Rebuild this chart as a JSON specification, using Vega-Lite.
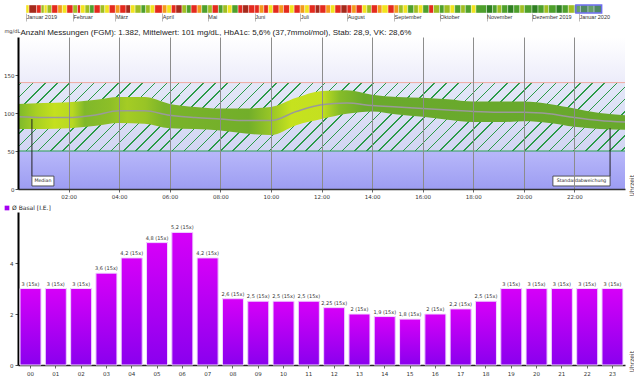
{
"$schema": "https://vega.github.io/schema/vega-lite/v6.json",
"background": "white",
"padding": {"left": 3, "top": 4, "right": 0, "bottom": 0},
"spacing": 5,
"resolve": {"scale": {"color": "independent", "stroke": "independent"}, "legend": {"color": "independent", "stroke": "independent"}},
"config": {"view": {"stroke": null}, "axis": {"labelFont": "DejaVu Sans", "titleFont": "DejaVu Sans"}},
"datasets": {
"days": [
{"s":"2019-01-01","e":"2019-01-03","c":"y"},{"s":"2019-01-03","e":"2019-01-08","c":"dr"},{"s":"2019-01-08","e":"2019-01-11","c":"r"},{"s":"2019-01-11","e":"2019-01-13","c":"yg"},{"s":"2019-01-13","e":"2019-01-15","c":"y"},{"s":"2019-01-15","e":"2019-01-18","c":"yg"},{"s":"2019-01-18","e":"2019-01-22","c":"r"},{"s":"2019-01-22","e":"2019-01-25","c":"o"},{"s":"2019-01-25","e":"2019-01-28","c":"y"},{"s":"2019-01-28","e":"2019-02-01","c":"r"},
{"s":"2019-02-01","e":"2019-02-04","c":"yg"},{"s":"2019-02-04","e":"2019-02-06","c":"r"},{"s":"2019-02-06","e":"2019-02-09","c":"y"},{"s":"2019-02-09","e":"2019-02-12","c":"yg"},{"s":"2019-02-12","e":"2019-02-15","c":"g"},{"s":"2019-02-15","e":"2019-02-19","c":"r"},{"s":"2019-02-19","e":"2019-02-22","c":"yg"},{"s":"2019-02-22","e":"2019-02-25","c":"y"},{"s":"2019-02-25","e":"2019-03-01","c":"r"},
{"s":"2019-03-01","e":"2019-03-04","c":"o"},{"s":"2019-03-04","e":"2019-03-08","c":"r"},{"s":"2019-03-08","e":"2019-03-11","c":"dr"},{"s":"2019-03-11","e":"2019-03-14","c":"y"},{"s":"2019-03-14","e":"2019-03-18","c":"yg"},{"s":"2019-03-18","e":"2019-03-21","c":"g"},{"s":"2019-03-21","e":"2019-03-24","c":"yg"},{"s":"2019-03-24","e":"2019-03-27","c":"y"},{"s":"2019-03-27","e":"2019-04-01","c":"r"},
{"s":"2019-04-01","e":"2019-04-04","c":"o"},{"s":"2019-04-04","e":"2019-04-07","c":"y"},{"s":"2019-04-07","e":"2019-04-10","c":"r"},{"s":"2019-04-10","e":"2019-04-14","c":"dr"},{"s":"2019-04-14","e":"2019-04-17","c":"yg"},{"s":"2019-04-17","e":"2019-04-20","c":"g"},{"s":"2019-04-20","e":"2019-04-24","c":"r"},{"s":"2019-04-24","e":"2019-04-27","c":"o"},{"s":"2019-04-27","e":"2019-05-01","c":"g"},
{"s":"2019-05-01","e":"2019-05-04","c":"yg"},{"s":"2019-05-04","e":"2019-05-08","c":"r"},{"s":"2019-05-08","e":"2019-05-11","c":"g"},{"s":"2019-05-11","e":"2019-05-14","c":"yg"},{"s":"2019-05-14","e":"2019-05-17","c":"y"},{"s":"2019-05-17","e":"2019-05-21","c":"g"},{"s":"2019-05-21","e":"2019-05-24","c":"r"},{"s":"2019-05-24","e":"2019-05-28","c":"dr"},{"s":"2019-05-28","e":"2019-06-01","c":"r"},
{"s":"2019-06-01","e":"2019-06-04","c":"r"},{"s":"2019-06-04","e":"2019-06-07","c":"o"},{"s":"2019-06-07","e":"2019-06-10","c":"r"},{"s":"2019-06-10","e":"2019-06-13","c":"y"},{"s":"2019-06-13","e":"2019-06-17","c":"r"},{"s":"2019-06-17","e":"2019-06-20","c":"o"},{"s":"2019-06-20","e":"2019-06-24","c":"r"},{"s":"2019-06-24","e":"2019-06-27","c":"y"},{"s":"2019-06-27","e":"2019-07-01","c":"r"},
{"s":"2019-07-01","e":"2019-07-04","c":"o"},{"s":"2019-07-04","e":"2019-07-07","c":"y"},{"s":"2019-07-07","e":"2019-07-11","c":"r"},{"s":"2019-07-11","e":"2019-07-14","c":"dr"},{"s":"2019-07-14","e":"2019-07-18","c":"r"},{"s":"2019-07-18","e":"2019-07-21","c":"o"},{"s":"2019-07-21","e":"2019-07-24","c":"y"},{"s":"2019-07-24","e":"2019-07-28","c":"r"},{"s":"2019-07-28","e":"2019-08-01","c":"dr"},
{"s":"2019-08-01","e":"2019-08-04","c":"r"},{"s":"2019-08-04","e":"2019-08-07","c":"o"},{"s":"2019-08-07","e":"2019-08-11","c":"r"},{"s":"2019-08-11","e":"2019-08-14","c":"y"},{"s":"2019-08-14","e":"2019-08-17","c":"yg"},{"s":"2019-08-17","e":"2019-08-21","c":"r"},{"s":"2019-08-21","e":"2019-08-24","c":"o"},{"s":"2019-08-24","e":"2019-08-28","c":"y"},{"s":"2019-08-28","e":"2019-09-01","c":"r"},
{"s":"2019-09-01","e":"2019-09-04","c":"o"},{"s":"2019-09-04","e":"2019-09-07","c":"yg"},{"s":"2019-09-07","e":"2019-09-10","c":"y"},{"s":"2019-09-10","e":"2019-09-14","c":"g"},{"s":"2019-09-14","e":"2019-09-17","c":"yg"},{"s":"2019-09-17","e":"2019-09-20","c":"y"},{"s":"2019-09-20","e":"2019-09-24","c":"g"},{"s":"2019-09-24","e":"2019-09-27","c":"r"},{"s":"2019-09-27","e":"2019-10-01","c":"yg"},
{"s":"2019-10-01","e":"2019-10-04","c":"g"},{"s":"2019-10-04","e":"2019-10-08","c":"yg"},{"s":"2019-10-08","e":"2019-10-11","c":"y"},{"s":"2019-10-11","e":"2019-10-15","c":"g"},{"s":"2019-10-15","e":"2019-10-18","c":"yg"},{"s":"2019-10-18","e":"2019-10-22","c":"g"},{"s":"2019-10-22","e":"2019-10-25","c":"y"},{"s":"2019-10-25","e":"2019-11-01","c":"g"},
{"s":"2019-11-01","e":"2019-11-05","c":"dg"},{"s":"2019-11-05","e":"2019-11-08","c":"g"},{"s":"2019-11-08","e":"2019-11-11","c":"yg"},{"s":"2019-11-11","e":"2019-11-15","c":"g"},{"s":"2019-11-15","e":"2019-11-19","c":"dg"},{"s":"2019-11-19","e":"2019-11-23","c":"g"},{"s":"2019-11-23","e":"2019-11-26","c":"yg"},{"s":"2019-11-26","e":"2019-12-01","c":"g"},
{"s":"2019-12-01","e":"2019-12-05","c":"dg"},{"s":"2019-12-05","e":"2019-12-09","c":"g"},{"s":"2019-12-09","e":"2019-12-12","c":"yg"},{"s":"2019-12-12","e":"2019-12-17","c":"g"},{"s":"2019-12-17","e":"2019-12-21","c":"dg"},{"s":"2019-12-21","e":"2019-12-25","c":"g"},{"s":"2019-12-25","e":"2019-12-29","c":"yg"},{"s":"2019-12-29","e":"2020-01-02","c":"g"},
{"s":"2020-01-02","e":"2020-01-07","c":"dg"},{"s":"2020-01-07","e":"2020-01-11","c":"g"},{"s":"2020-01-11","e":"2020-01-16","c":"dg"}
],
"glucose": [
{"h":0,"med":95,"hi":112,"lo":79},{"h":1,"med":94,"hi":113,"lo":79},{"h":2,"med":94,"hi":114,"lo":80},{"h":3,"med":97,"hi":117,"lo":83},{"h":4,"med":103,"hi":121,"lo":87},{"h":5,"med":103,"hi":121,"lo":86},{"h":6,"med":97,"hi":112,"lo":80},{"h":7,"med":94,"hi":108,"lo":79},{"h":8,"med":92,"hi":106,"lo":77},{"h":9,"med":90,"hi":106,"lo":73},{"h":10,"med":90,"hi":108,"lo":71},{"h":11,"med":102,"hi":120,"lo":84},{"h":12,"med":111,"hi":129,"lo":92},{"h":13,"med":113,"hi":130,"lo":99},{"h":14,"med":110,"hi":124,"lo":102},{"h":15,"med":108,"hi":121,"lo":98},{"h":16,"med":106,"hi":120,"lo":95},{"h":17,"med":104,"hi":118,"lo":91},{"h":18,"med":102,"hi":115,"lo":88},{"h":19,"med":101,"hi":115,"lo":88},{"h":20,"med":101,"hi":115,"lo":89},{"h":21,"med":99,"hi":112,"lo":87},{"h":22,"med":94,"hi":106,"lo":82},{"h":23,"med":90,"hi":100,"lo":79},{"h":24,"med":88,"hi":97,"lo":78}
],
"notes": [
{"label":"Median","lx":0.55,"ly":92,"bx1":0.55,"bx2":1.42,"by1":4,"by2":17,"tx":0.985,"ty":10.5},
{"label":"Standardabweichung","lx":23.41,"ly":80,"bx1":21.15,"bx2":23.41,"by1":4,"by2":17,"tx":22.28,"ty":10.5}
],
"basal": [
{"h":"00","v":3,"label":"3 (15x)","s":"Ø Basal [I.E.]"},{"h":"01","v":3,"label":"3 (15x)","s":"Ø Basal [I.E.]"},{"h":"02","v":3,"label":"3 (15x)","s":"Ø Basal [I.E.]"},{"h":"03","v":3.6,"label":"3,6 (15x)","s":"Ø Basal [I.E.]"},{"h":"04","v":4.2,"label":"4,2 (15x)","s":"Ø Basal [I.E.]"},{"h":"05","v":4.8,"label":"4,8 (15x)","s":"Ø Basal [I.E.]"},{"h":"06","v":5.2,"label":"5,2 (15x)","s":"Ø Basal [I.E.]"},{"h":"07","v":4.2,"label":"4,2 (15x)","s":"Ø Basal [I.E.]"},{"h":"08","v":2.6,"label":"2,6 (15x)","s":"Ø Basal [I.E.]"},{"h":"09","v":2.5,"label":"2,5 (15x)","s":"Ø Basal [I.E.]"},{"h":"10","v":2.5,"label":"2,5 (15x)","s":"Ø Basal [I.E.]"},{"h":"11","v":2.5,"label":"2,5 (15x)","s":"Ø Basal [I.E.]"},{"h":"12","v":2.25,"label":"2,25 (15x)","s":"Ø Basal [I.E.]"},{"h":"13","v":2,"label":"2 (15x)","s":"Ø Basal [I.E.]"},{"h":"14","v":1.9,"label":"1,9 (15x)","s":"Ø Basal [I.E.]"},{"h":"15","v":1.8,"label":"1,8 (15x)","s":"Ø Basal [I.E.]"},{"h":"16","v":2,"label":"2 (15x)","s":"Ø Basal [I.E.]"},{"h":"17","v":2.2,"label":"2,2 (15x)","s":"Ø Basal [I.E.]"},{"h":"18","v":2.5,"label":"2,5 (15x)","s":"Ø Basal [I.E.]"},{"h":"19","v":3,"label":"3 (15x)","s":"Ø Basal [I.E.]"},{"h":"20","v":3,"label":"3 (15x)","s":"Ø Basal [I.E.]"},{"h":"21","v":3,"label":"3 (15x)","s":"Ø Basal [I.E.]"},{"h":"22","v":3,"label":"3 (15x)","s":"Ø Basal [I.E.]"},{"h":"23","v":3,"label":"3 (15x)","s":"Ø Basal [I.E.]"}
]
},
"vconcat": [
{"spacing": 6,
 "resolve": {"scale": {"color": "independent", "stroke": "independent"}, "legend": {"color": "independent", "stroke": "independent"}},
 "vconcat": [
{
"width": 607, "height": 8,
"layer": [
{"data": {"name": "days"},
 "mark": {"type": "rect", "stroke": "white", "strokeWidth": 0.4},
 "encoding": {
  "x": {"field": "s", "type": "temporal", "title": null,
        "scale": {"type": "utc", "domain": [{"year": 2018, "month": 12, "date": 26, "hours": 17, "utc": true}, {"year": 2020, "month": 1, "date": 31, "hours": 10, "utc": true}]},
        "axis": {"title": null, "domain": false, "grid": false, "tickCount": {"interval": "month", "step": 1}, "tickSize": 8, "tickColor": "#bbbbbb", "labelAlign": "left", "labelBaseline": "top", "labelPadding": -7, "labelDx": 2, "labelFontSize": 5.5, "labelFont": "Liberation Sans", "labelColor": "#333", "labelFlush": false, "labelOverlap": false,
                 "labelExpr": "['Januar','Februar','März','April','Mai','Juni','Juli','August','September','Oktober','November','Dezember'][utcmonth(datum.value)] + ((utcmonth(datum.value)==0 || utcmonth(datum.value)==11) ? ' ' + utcyear(datum.value) : '')"}},
  "x2": {"field": "e"},
  "color": {"field": "c", "type": "nominal", "legend": null,
            "scale": {"domain": ["dg","g","yg","y","o","r","dr"], "range": ["#2f7f22","#4ea02c","#a0be22","#f2e41e","#f39a1c","#e42a1e","#a52a1c"]}}
 }},
{"data": {"values": [{"s": "2019-12-30", "e": "2020-01-16"}]},
 "mark": {"type": "rect", "fill": "#9a9aff", "fillOpacity": 0.3, "stroke": "#6c6cf0", "strokeWidth": 1.5},
 "encoding": {"x": {"field": "s", "type": "temporal", "title": null}, "x2": {"field": "e"}}}
]
},
{
"width": 607, "height": 152,
"resolve": {"axis": {"x": "independent"}},
"layer": [
{"data": {"values": [{"lo": 140, "hi": 200}]},
 "mark": {"type": "rect", "fill": {"gradient": "linear", "x1": 0, "y1": 0, "x2": 0, "y2": 1, "stops": [{"offset": 0, "color": "#ffffff"}, {"offset": 1, "color": "#ececfa"}]}},
 "encoding": {
  "y": {"field": "hi", "type": "quantitative", "title": "mg/dL", "scale": {"domain": [0, 200], "nice": false},
        "axis": {"values": [0, 50, 100, 150], "grid": false, "zindex": 1, "domainColor": "#000", "domainWidth": 2, "tickSize": 3, "tickColor": "#555", "labelFontSize": 5.5, "labelColor": "#333", "labelPadding": 1, "titleAngle": 0, "titleX": -14, "titleY": -4, "titleAlign": "left", "titleBaseline": "bottom", "titleFontSize": 5, "titleFontWeight": "normal", "titleColor": "#333"}},
  "y2": {"field": "lo"}}},
{"data": {"values": [{"lo": 50, "hi": 140}]},
 "mark": {"type": "rect", "fill": {"gradient": "linear", "x1": 0, "y1": 0, "x2": 0, "y2": 1, "stops": [{"offset": 0, "color": "#e4e8f8"}, {"offset": 1, "color": "#d2d5f3"}]}},
 "encoding": {"y": {"field": "hi", "type": "quantitative", "title": "mg/dL"}, "y2": {"field": "lo"}}},
{"data": {"values": [{"lo": 50, "hi": 140}]},
 "mark": {"type": "rect", "fill": {"gradient": "linear", "x1": 0, "y1": 0, "x2": 1.0988, "y2": 0.1238, "stops": [
{"offset":0,"color":"rgba(42,154,72,0)"},
{"offset":0.004,"color":"rgba(42,154,72,0)"},{"offset":0.004,"color":"#2a9a48"},{"offset":0.0062,"color":"#2a9a48"},{"offset":0.0062,"color":"rgba(42,154,72,0)"},
{"offset":0.022,"color":"rgba(42,154,72,0)"},{"offset":0.022,"color":"#2a9a48"},{"offset":0.0242,"color":"#2a9a48"},{"offset":0.0242,"color":"rgba(42,154,72,0)"},
{"offset":0.040,"color":"rgba(42,154,72,0)"},{"offset":0.040,"color":"#2a9a48"},{"offset":0.0422,"color":"#2a9a48"},{"offset":0.0422,"color":"rgba(42,154,72,0)"},
{"offset":0.058,"color":"rgba(42,154,72,0)"},{"offset":0.058,"color":"#2a9a48"},{"offset":0.0602,"color":"#2a9a48"},{"offset":0.0602,"color":"rgba(42,154,72,0)"},
{"offset":0.076,"color":"rgba(42,154,72,0)"},{"offset":0.076,"color":"#2a9a48"},{"offset":0.0782,"color":"#2a9a48"},{"offset":0.0782,"color":"rgba(42,154,72,0)"},
{"offset":0.094,"color":"rgba(42,154,72,0)"},{"offset":0.094,"color":"#2a9a48"},{"offset":0.0962,"color":"#2a9a48"},{"offset":0.0962,"color":"rgba(42,154,72,0)"},
{"offset":0.112,"color":"rgba(42,154,72,0)"},{"offset":0.112,"color":"#2a9a48"},{"offset":0.1142,"color":"#2a9a48"},{"offset":0.1142,"color":"rgba(42,154,72,0)"},
{"offset":0.130,"color":"rgba(42,154,72,0)"},{"offset":0.130,"color":"#2a9a48"},{"offset":0.1322,"color":"#2a9a48"},{"offset":0.1322,"color":"rgba(42,154,72,0)"},
{"offset":0.148,"color":"rgba(42,154,72,0)"},{"offset":0.148,"color":"#2a9a48"},{"offset":0.1502,"color":"#2a9a48"},{"offset":0.1502,"color":"rgba(42,154,72,0)"},
{"offset":0.166,"color":"rgba(42,154,72,0)"},{"offset":0.166,"color":"#2a9a48"},{"offset":0.1682,"color":"#2a9a48"},{"offset":0.1682,"color":"rgba(42,154,72,0)"},
{"offset":0.184,"color":"rgba(42,154,72,0)"},{"offset":0.184,"color":"#2a9a48"},{"offset":0.1862,"color":"#2a9a48"},{"offset":0.1862,"color":"rgba(42,154,72,0)"},
{"offset":0.202,"color":"rgba(42,154,72,0)"},{"offset":0.202,"color":"#2a9a48"},{"offset":0.2042,"color":"#2a9a48"},{"offset":0.2042,"color":"rgba(42,154,72,0)"},
{"offset":0.220,"color":"rgba(42,154,72,0)"},{"offset":0.220,"color":"#2a9a48"},{"offset":0.2222,"color":"#2a9a48"},{"offset":0.2222,"color":"rgba(42,154,72,0)"},
{"offset":0.238,"color":"rgba(42,154,72,0)"},{"offset":0.238,"color":"#2a9a48"},{"offset":0.2402,"color":"#2a9a48"},{"offset":0.2402,"color":"rgba(42,154,72,0)"},
{"offset":0.256,"color":"rgba(42,154,72,0)"},{"offset":0.256,"color":"#2a9a48"},{"offset":0.2582,"color":"#2a9a48"},{"offset":0.2582,"color":"rgba(42,154,72,0)"},
{"offset":0.274,"color":"rgba(42,154,72,0)"},{"offset":0.274,"color":"#2a9a48"},{"offset":0.2762,"color":"#2a9a48"},{"offset":0.2762,"color":"rgba(42,154,72,0)"},
{"offset":0.292,"color":"rgba(42,154,72,0)"},{"offset":0.292,"color":"#2a9a48"},{"offset":0.2942,"color":"#2a9a48"},{"offset":0.2942,"color":"rgba(42,154,72,0)"},
{"offset":0.310,"color":"rgba(42,154,72,0)"},{"offset":0.310,"color":"#2a9a48"},{"offset":0.3122,"color":"#2a9a48"},{"offset":0.3122,"color":"rgba(42,154,72,0)"},
{"offset":0.328,"color":"rgba(42,154,72,0)"},{"offset":0.328,"color":"#2a9a48"},{"offset":0.3302,"color":"#2a9a48"},{"offset":0.3302,"color":"rgba(42,154,72,0)"},
{"offset":0.346,"color":"rgba(42,154,72,0)"},{"offset":0.346,"color":"#2a9a48"},{"offset":0.3482,"color":"#2a9a48"},{"offset":0.3482,"color":"rgba(42,154,72,0)"},
{"offset":0.364,"color":"rgba(42,154,72,0)"},{"offset":0.364,"color":"#2a9a48"},{"offset":0.3662,"color":"#2a9a48"},{"offset":0.3662,"color":"rgba(42,154,72,0)"},
{"offset":0.382,"color":"rgba(42,154,72,0)"},{"offset":0.382,"color":"#2a9a48"},{"offset":0.3842,"color":"#2a9a48"},{"offset":0.3842,"color":"rgba(42,154,72,0)"},
{"offset":0.400,"color":"rgba(42,154,72,0)"},{"offset":0.400,"color":"#2a9a48"},{"offset":0.4022,"color":"#2a9a48"},{"offset":0.4022,"color":"rgba(42,154,72,0)"},
{"offset":0.418,"color":"rgba(42,154,72,0)"},{"offset":0.418,"color":"#2a9a48"},{"offset":0.4202,"color":"#2a9a48"},{"offset":0.4202,"color":"rgba(42,154,72,0)"},
{"offset":0.436,"color":"rgba(42,154,72,0)"},{"offset":0.436,"color":"#2a9a48"},{"offset":0.4382,"color":"#2a9a48"},{"offset":0.4382,"color":"rgba(42,154,72,0)"},
{"offset":0.454,"color":"rgba(42,154,72,0)"},{"offset":0.454,"color":"#2a9a48"},{"offset":0.4562,"color":"#2a9a48"},{"offset":0.4562,"color":"rgba(42,154,72,0)"},
{"offset":0.472,"color":"rgba(42,154,72,0)"},{"offset":0.472,"color":"#2a9a48"},{"offset":0.4742,"color":"#2a9a48"},{"offset":0.4742,"color":"rgba(42,154,72,0)"},
{"offset":0.490,"color":"rgba(42,154,72,0)"},{"offset":0.490,"color":"#2a9a48"},{"offset":0.4922,"color":"#2a9a48"},{"offset":0.4922,"color":"rgba(42,154,72,0)"},
{"offset":0.508,"color":"rgba(42,154,72,0)"},{"offset":0.508,"color":"#2a9a48"},{"offset":0.5102,"color":"#2a9a48"},{"offset":0.5102,"color":"rgba(42,154,72,0)"},
{"offset":0.526,"color":"rgba(42,154,72,0)"},{"offset":0.526,"color":"#2a9a48"},{"offset":0.5282,"color":"#2a9a48"},{"offset":0.5282,"color":"rgba(42,154,72,0)"},
{"offset":0.544,"color":"rgba(42,154,72,0)"},{"offset":0.544,"color":"#2a9a48"},{"offset":0.5462,"color":"#2a9a48"},{"offset":0.5462,"color":"rgba(42,154,72,0)"},
{"offset":0.562,"color":"rgba(42,154,72,0)"},{"offset":0.562,"color":"#2a9a48"},{"offset":0.5642,"color":"#2a9a48"},{"offset":0.5642,"color":"rgba(42,154,72,0)"},
{"offset":0.580,"color":"rgba(42,154,72,0)"},{"offset":0.580,"color":"#2a9a48"},{"offset":0.5822,"color":"#2a9a48"},{"offset":0.5822,"color":"rgba(42,154,72,0)"},
{"offset":0.598,"color":"rgba(42,154,72,0)"},{"offset":0.598,"color":"#2a9a48"},{"offset":0.6002,"color":"#2a9a48"},{"offset":0.6002,"color":"rgba(42,154,72,0)"},
{"offset":0.616,"color":"rgba(42,154,72,0)"},{"offset":0.616,"color":"#2a9a48"},{"offset":0.6182,"color":"#2a9a48"},{"offset":0.6182,"color":"rgba(42,154,72,0)"},
{"offset":0.634,"color":"rgba(42,154,72,0)"},{"offset":0.634,"color":"#2a9a48"},{"offset":0.6362,"color":"#2a9a48"},{"offset":0.6362,"color":"rgba(42,154,72,0)"},
{"offset":0.652,"color":"rgba(42,154,72,0)"},{"offset":0.652,"color":"#2a9a48"},{"offset":0.6542,"color":"#2a9a48"},{"offset":0.6542,"color":"rgba(42,154,72,0)"},
{"offset":0.670,"color":"rgba(42,154,72,0)"},{"offset":0.670,"color":"#2a9a48"},{"offset":0.6722,"color":"#2a9a48"},{"offset":0.6722,"color":"rgba(42,154,72,0)"},
{"offset":0.688,"color":"rgba(42,154,72,0)"},{"offset":0.688,"color":"#2a9a48"},{"offset":0.6902,"color":"#2a9a48"},{"offset":0.6902,"color":"rgba(42,154,72,0)"},
{"offset":0.706,"color":"rgba(42,154,72,0)"},{"offset":0.706,"color":"#2a9a48"},{"offset":0.7082,"color":"#2a9a48"},{"offset":0.7082,"color":"rgba(42,154,72,0)"},
{"offset":0.724,"color":"rgba(42,154,72,0)"},{"offset":0.724,"color":"#2a9a48"},{"offset":0.7262,"color":"#2a9a48"},{"offset":0.7262,"color":"rgba(42,154,72,0)"},
{"offset":0.742,"color":"rgba(42,154,72,0)"},{"offset":0.742,"color":"#2a9a48"},{"offset":0.7442,"color":"#2a9a48"},{"offset":0.7442,"color":"rgba(42,154,72,0)"},
{"offset":0.760,"color":"rgba(42,154,72,0)"},{"offset":0.760,"color":"#2a9a48"},{"offset":0.7622,"color":"#2a9a48"},{"offset":0.7622,"color":"rgba(42,154,72,0)"},
{"offset":0.778,"color":"rgba(42,154,72,0)"},{"offset":0.778,"color":"#2a9a48"},{"offset":0.7802,"color":"#2a9a48"},{"offset":0.7802,"color":"rgba(42,154,72,0)"},
{"offset":0.796,"color":"rgba(42,154,72,0)"},{"offset":0.796,"color":"#2a9a48"},{"offset":0.7982,"color":"#2a9a48"},{"offset":0.7982,"color":"rgba(42,154,72,0)"},
{"offset":0.814,"color":"rgba(42,154,72,0)"},{"offset":0.814,"color":"#2a9a48"},{"offset":0.8162,"color":"#2a9a48"},{"offset":0.8162,"color":"rgba(42,154,72,0)"},
{"offset":0.832,"color":"rgba(42,154,72,0)"},{"offset":0.832,"color":"#2a9a48"},{"offset":0.8342,"color":"#2a9a48"},{"offset":0.8342,"color":"rgba(42,154,72,0)"},
{"offset":0.850,"color":"rgba(42,154,72,0)"},{"offset":0.850,"color":"#2a9a48"},{"offset":0.8522,"color":"#2a9a48"},{"offset":0.8522,"color":"rgba(42,154,72,0)"},
{"offset":0.868,"color":"rgba(42,154,72,0)"},{"offset":0.868,"color":"#2a9a48"},{"offset":0.8702,"color":"#2a9a48"},{"offset":0.8702,"color":"rgba(42,154,72,0)"},
{"offset":0.886,"color":"rgba(42,154,72,0)"},{"offset":0.886,"color":"#2a9a48"},{"offset":0.8882,"color":"#2a9a48"},{"offset":0.8882,"color":"rgba(42,154,72,0)"},
{"offset":0.904,"color":"rgba(42,154,72,0)"},{"offset":0.904,"color":"#2a9a48"},{"offset":0.9062,"color":"#2a9a48"},{"offset":0.9062,"color":"rgba(42,154,72,0)"},
{"offset":0.922,"color":"rgba(42,154,72,0)"},{"offset":0.922,"color":"#2a9a48"},{"offset":0.9242,"color":"#2a9a48"},{"offset":0.9242,"color":"rgba(42,154,72,0)"},
{"offset":0.940,"color":"rgba(42,154,72,0)"},{"offset":0.940,"color":"#2a9a48"},{"offset":0.9422,"color":"#2a9a48"},{"offset":0.9422,"color":"rgba(42,154,72,0)"},
{"offset":0.958,"color":"rgba(42,154,72,0)"},{"offset":0.958,"color":"#2a9a48"},{"offset":0.9602,"color":"#2a9a48"},{"offset":0.9602,"color":"rgba(42,154,72,0)"},
{"offset":0.976,"color":"rgba(42,154,72,0)"},{"offset":0.976,"color":"#2a9a48"},{"offset":0.9782,"color":"#2a9a48"},{"offset":0.9782,"color":"rgba(42,154,72,0)"},
{"offset":0.994,"color":"rgba(42,154,72,0)"},{"offset":0.994,"color":"#2a9a48"},{"offset":0.9962,"color":"#2a9a48"},{"offset":0.9962,"color":"rgba(42,154,72,0)"},
{"offset":1,"color":"rgba(42,154,72,0)"}
]}},
 "encoding": {"y": {"field": "hi", "type": "quantitative", "title": "mg/dL"}, "y2": {"field": "lo"}}},
{"data": {"values": [{"lo": 0, "hi": 50}]},
 "mark": {"type": "rect", "fill": {"gradient": "linear", "x1": 0, "y1": 0, "x2": 0, "y2": 1, "stops": [{"offset": 0, "color": "#b8b8fa"}, {"offset": 1, "color": "#9d9df2"}]}},
 "encoding": {"y": {"field": "hi", "type": "quantitative", "title": "mg/dL"}, "y2": {"field": "lo"}}},
{"data": {"values": [{"v": 140, "k": "hi"}, {"v": 50, "k": "lo"}]},
 "mark": {"type": "rule", "strokeWidth": 1},
 "encoding": {"y": {"field": "v", "type": "quantitative", "title": "mg/dL"},
              "stroke": {"field": "k", "type": "nominal", "legend": null, "scale": {"domain": ["hi", "lo"], "range": ["#f0a8a0", "#2aa050"]}}}},
{"data": {"name": "glucose"},
 "mark": {"type": "area", "interpolate": "monotone", "fill": {"gradient": "linear", "x1": 0, "y1": 0, "x2": 1, "y2": 0, "stops": [
   {"offset": 0, "color": "#7cb82c"}, {"offset": 0.03, "color": "#a8d022"}, {"offset": 0.06, "color": "#c4e01e"}, {"offset": 0.09, "color": "#b8d822"}, {"offset": 0.11, "color": "#80b82a"}, {"offset": 0.15, "color": "#8cbe28"}, {"offset": 0.18, "color": "#a4cc24"}, {"offset": 0.21, "color": "#98c426"}, {"offset": 0.24, "color": "#7ab42a"}, {"offset": 0.38, "color": "#72ae2a"}, {"offset": 0.42, "color": "#9cc826"}, {"offset": 0.45, "color": "#c6e21e"}, {"offset": 0.5, "color": "#c4e020"}, {"offset": 0.53, "color": "#86bc28"}, {"offset": 0.57, "color": "#6aaa2c"}, {"offset": 1, "color": "#68a82c"}]}},
 "encoding": {
  "x": {"field": "h", "type": "quantitative", "title": "Uhrzeit", "scale": {"domain": [0, 24], "nice": false},
        "axis": {"orient": "bottom", "values": [2, 4, 6, 8, 10, 12, 14, 16, 18, 20, 22], "labelExpr": "(datum.value < 10 ? '0' : '') + datum.value + ':00'", "grid": true, "gridColor": "#8c8c8c", "gridWidth": 1, "zindex": 1, "domainColor": "#333", "domainWidth": 1.5, "tickSize": 3, "tickColor": "#666", "labelFontSize": 5.5, "labelColor": "#333", "labelPadding": 2, "labelFlush": false,
                 "titleAngle": 270, "titleX": 613, "titleY": 7, "titleAlign": "left", "titleBaseline": "middle", "titleFontSize": 6, "titleFontWeight": "normal", "titleColor": "#333"}},
  "y": {"field": "hi", "type": "quantitative", "title": "mg/dL"},
  "y2": {"field": "lo"}}},
{"data": {"name": "glucose"},
 "mark": {"type": "line", "interpolate": "monotone", "stroke": "#9a9a9a", "strokeWidth": 1.5},
 "encoding": {"x": {"field": "h", "type": "quantitative", "title": "Anzahl Messungen (FGM): 1.382, Mittelwert: 101 mg/dL, HbA1c: 5,6% (37,7mmol/mol), Stab: 28,9, VK: 28,6%",
        "axis": {"orient": "top", "labels": false, "ticks": false, "domain": false, "grid": false, "titleAngle": 0, "titleX": 2, "titleY": -2.5, "titleAlign": "left", "titleBaseline": "alphabetic", "titleFont": "Liberation Sans", "titleFontSize": 8, "titleFontWeight": "normal", "titleColor": "#222"}},
   "y": {"field": "med", "type": "quantitative", "title": "mg/dL"}}},
{"data": {"name": "notes"},
 "mark": {"type": "rule", "stroke": "#222", "strokeWidth": 1},
 "encoding": {"x": {"field": "lx", "type": "quantitative", "axis": null}, "y": {"field": "ly", "type": "quantitative", "title": "mg/dL"}, "y2": {"field": "by2"}}},
{"data": {"name": "notes"},
 "mark": {"type": "rect", "fill": "white", "stroke": "#333", "strokeWidth": 0.8},
 "encoding": {"x": {"field": "bx1", "type": "quantitative", "axis": null}, "x2": {"field": "bx2"}, "y": {"field": "by1", "type": "quantitative", "title": "mg/dL"}, "y2": {"field": "by2"}}},
{"data": {"name": "notes"},
 "mark": {"type": "text", "fontSize": 4.7, "font": "DejaVu Sans", "color": "#222", "baseline": "middle", "align": "center"},
 "encoding": {"x": {"field": "tx", "type": "quantitative", "axis": null}, "y": {"field": "ty", "type": "quantitative", "title": "mg/dL"}, "text": {"field": "label"}}}
]
}
]},
{
"width": 607, "height": 153,
"layer": [
{"data": {"name": "basal"},
 "mark": {"type": "bar"},
 "encoding": {
  "x": {"field": "h", "type": "ordinal", "title": "Uhrzeit", "scale": {"paddingInner": 0.17, "paddingOuter": 0.08},
        "axis": {"labelAngle": 0, "domainColor": "#222", "domainWidth": 1.5, "tickSize": 3, "tickColor": "#666", "labelFontSize": 5.5, "labelColor": "#333", "labelPadding": 3,
                 "titleAngle": 270, "titleX": 613, "titleY": 7, "titleAlign": "left", "titleBaseline": "middle", "titleFontSize": 6, "titleFontWeight": "normal", "titleColor": "#333"}},
  "y": {"field": "v", "type": "quantitative", "title": null, "scale": {"domain": [0, 6], "nice": false},
        "axis": {"values": [0, 1, 2, 3, 4, 5], "labelExpr": "datum.value % 2 == 0 ? datum.label : ''", "grid": false, "domainColor": "#000", "domainWidth": 2, "tickSize": 3, "tickColor": "#555", "labelFontSize": 5.5, "labelColor": "#333", "labelPadding": 2}},
  "color": {"field": "s", "type": "nominal", "scale": {"range": ["#a400f2"]},
            "legend": {"orient": "none", "legendX": -14, "legendY": -7, "title": null, "symbolType": "square", "symbolSize": 22, "symbolStrokeWidth": 0, "labelFontSize": 6, "labelFont": "DejaVu Sans", "labelColor": "#222", "labelOffset": 2, "padding": 0}}
 }},
{"data": {"name": "basal"},
 "mark": {"type": "bar", "stroke": "#f2dcff", "strokeWidth": 1, "fill": {"gradient": "linear", "x1": 0, "y1": 0, "x2": 0, "y2": 1, "stops": [{"offset": 0, "color": "#d600f8"}, {"offset": 1, "color": "#8a00ee"}]}},
 "encoding": {"x": {"field": "h", "type": "ordinal", "title": "Uhrzeit"}, "y": {"field": "v", "type": "quantitative", "title": null}}},
{"data": {"name": "basal"},
 "mark": {"type": "text", "dy": -2, "baseline": "bottom", "fontSize": 5, "font": "DejaVu Sans", "color": "#333"},
 "encoding": {"x": {"field": "h", "type": "ordinal", "title": "Uhrzeit"}, "y": {"field": "v", "type": "quantitative", "title": null}, "text": {"field": "label"}}}
]
}
]
}
